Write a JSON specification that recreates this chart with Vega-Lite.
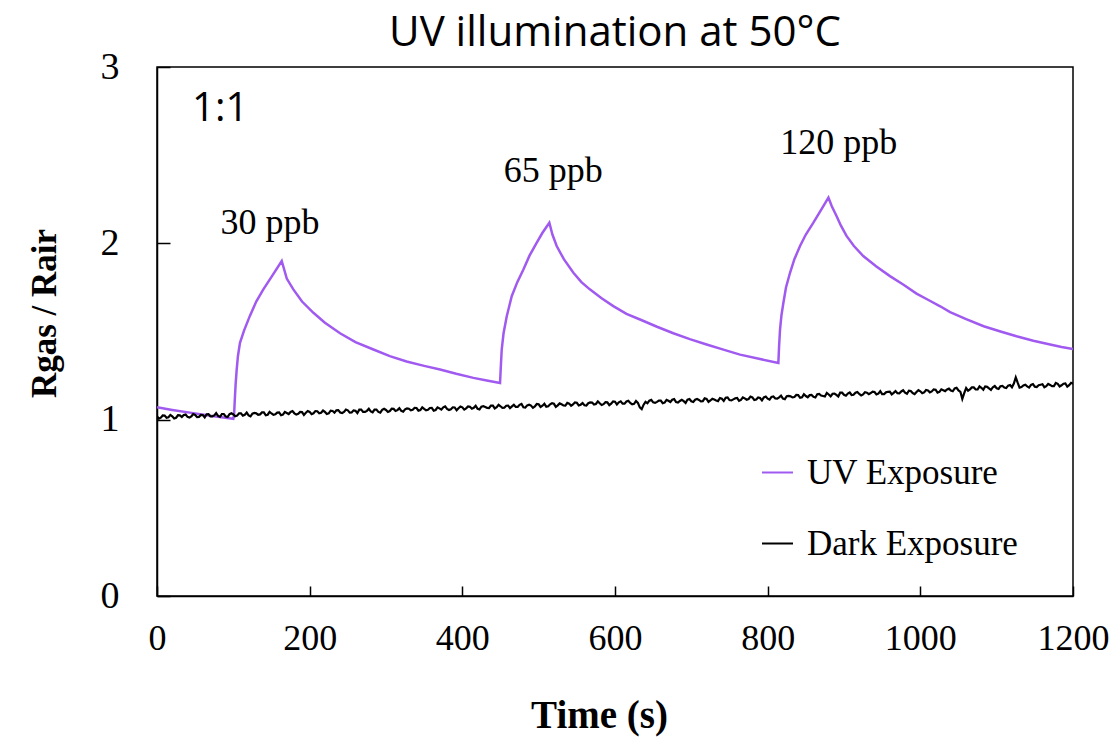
{
  "$schema": "https://vega.github.io/schema/vega-lite/v6.json",
  "width": 916,
  "height": 529,
  "autosize": {"type": "none"},
  "padding": {"left": 157, "top": 67, "right": 42, "bottom": 146},
  "background": "white",
  "title": {"text": "UV illumination at 50°C", "font": "Open Sans", "fontSize": 42, "fontWeight": "normal", "color": "black", "anchor": "middle", "baseline": "alphabetic", "offset": -40},
  "config": {
    "view": {"stroke": "black", "strokeWidth": 1.5},
    "axis": {"grid": false, "domainColor": "black", "domainWidth": 1.5, "tickColor": "black", "tickWidth": 1.5, "labelColor": "black", "labelFont": "Liberation Serif", "titleColor": "black", "titleFont": "Liberation Serif", "titleFontWeight": "bold", "labelFlush": false}
  },
  "datasets": {
    "uv": [
      {"t":0,"r":1.07},{"t":20,"r":1.055},{"t":43,"r":1.04},{"t":70,"r":1.022},{"t":100,"r":1.005},{"t":101,"r":1.03},{"t":102,"r":1.12},{"t":103,"r":1.2},{"t":104.4,"r":1.284},{"t":106,"r":1.36},{"t":108.7,"r":1.436},{"t":114,"r":1.505},{"t":121.8,"r":1.59},{"t":130,"r":1.67},{"t":139.3,"r":1.739},{"t":150,"r":1.81},{"t":163.4,"r":1.9},{"t":170,"r":1.8},{"t":178.6,"r":1.739},{"t":190,"r":1.67},{"t":204.9,"r":1.606},{"t":220,"r":1.55},{"t":239.8,"r":1.49},{"t":260,"r":1.44},{"t":283.5,"r":1.398},{"t":305,"r":1.36},{"t":327,"r":1.33},{"t":350,"r":1.305},{"t":370.8,"r":1.284},{"t":392,"r":1.26},{"t":414.5,"r":1.237},{"t":432,"r":1.222},{"t":449.4,"r":1.208},{"t":450.3,"r":1.29},{"t":451.6,"r":1.398},{"t":454,"r":1.49},{"t":458.2,"r":1.587},{"t":464.7,"r":1.7},{"t":472,"r":1.78},{"t":480,"r":1.852},{"t":488,"r":1.93},{"t":497.5,"r":2.004},{"t":505,"r":2.06},{"t":514,"r":2.117},{"t":518,"r":2.05},{"t":523.6,"r":1.985},{"t":533,"r":1.91},{"t":545.5,"r":1.833},{"t":556,"r":1.78},{"t":567,"r":1.739},{"t":582,"r":1.69},{"t":597.8,"r":1.644},{"t":615,"r":1.6},{"t":632.8,"r":1.568},{"t":655,"r":1.527},{"t":676.4,"r":1.49},{"t":698,"r":1.457},{"t":720,"r":1.426},{"t":742,"r":1.397},{"t":763.8,"r":1.369},{"t":790,"r":1.344},{"t":814,"r":1.322},{"t":815,"r":1.42},{"t":816.2,"r":1.511},{"t":818,"r":1.59},{"t":820.6,"r":1.663},{"t":824,"r":1.75},{"t":829.3,"r":1.833},{"t":835,"r":1.91},{"t":842.4,"r":1.985},{"t":850,"r":2.05},{"t":859.9,"r":2.117},{"t":870,"r":2.19},{"t":879.6,"r":2.259},{"t":884,"r":2.21},{"t":890.2,"r":2.155},{"t":896,"r":2.1},{"t":903.3,"r":2.042},{"t":913,"r":1.985},{"t":925.2,"r":1.928},{"t":942,"r":1.87},{"t":960.2,"r":1.814},{"t":978,"r":1.765},{"t":995,"r":1.715},{"t":1010,"r":1.68},{"t":1026,"r":1.643},{"t":1039,"r":1.61},{"t":1060,"r":1.57},{"t":1083,"r":1.53},{"t":1105,"r":1.5},{"t":1126,"r":1.473},{"t":1148,"r":1.448},{"t":1170,"r":1.426},{"t":1185,"r":1.412},{"t":1200,"r":1.4}
    ],
    "dark": [
      {"t":0,"r":1.019},{"t":5,"r":1.011},{"t":10,"r":1.023},{"t":15,"r":1.014},{"t":20,"r":1.019},{"t":25,"r":1.011},{"t":30,"r":1.024},{"t":35,"r":1.027},{"t":40,"r":1.016},{"t":45,"r":1.019},
      {"t":50,"r":1.027},{"t":55,"r":1.016},{"t":60,"r":1.026},{"t":65,"r":1.03},{"t":70,"r":1.019},{"t":75,"r":1.024},{"t":80,"r":1.022},{"t":85,"r":1.032},{"t":90,"r":1.018},{"t":95,"r":1.031},
      {"t":100,"r":1.03},{"t":105,"r":1.023},{"t":110,"r":1.036},{"t":115,"r":1.028},{"t":120,"r":1.024},{"t":125,"r":1.034},{"t":130,"r":1.036},{"t":135,"r":1.03},{"t":140,"r":1.041},{"t":145,"r":1.028},
      {"t":150,"r":1.035},{"t":155,"r":1.03},{"t":160,"r":1.041},{"t":165,"r":1.029},{"t":170,"r":1.038},{"t":175,"r":1.044},{"t":180,"r":1.036},{"t":185,"r":1.033},{"t":190,"r":1.043},{"t":195,"r":1.039},
      {"t":200,"r":1.044},{"t":205,"r":1.036},{"t":210,"r":1.048},{"t":215,"r":1.039},{"t":220,"r":1.044},{"t":225,"r":1.036},{"t":230,"r":1.049},{"t":235,"r":1.053},{"t":240,"r":1.041},{"t":245,"r":1.044},
      {"t":250,"r":1.053},{"t":255,"r":1.041},{"t":260,"r":1.051},{"t":265,"r":1.057},{"t":270,"r":1.044},{"t":275,"r":1.05},{"t":280,"r":1.047},{"t":285,"r":1.057},{"t":290,"r":1.044},{"t":295,"r":1.056},
      {"t":300,"r":1.055},{"t":305,"r":1.049},{"t":310,"r":1.061},{"t":315,"r":1.054},{"t":320,"r":1.05},{"t":325,"r":1.059},{"t":330,"r":1.062},{"t":335,"r":1.056},{"t":340,"r":1.066},{"t":345,"r":1.054},
      {"t":350,"r":1.061},{"t":355,"r":1.056},{"t":360,"r":1.067},{"t":365,"r":1.055},{"t":370,"r":1.064},{"t":375,"r":1.07},{"t":380,"r":1.061},{"t":385,"r":1.059},{"t":390,"r":1.069},{"t":395,"r":1.065},
      {"t":400,"r":1.07},{"t":405,"r":1.064},{"t":410,"r":1.073},{"t":415,"r":1.067},{"t":420,"r":1.062},{"t":425,"r":1.074},{"t":430,"r":1.072},{"t":435,"r":1.066},{"t":440,"r":1.08},{"t":445,"r":1.071},
      {"t":450,"r":1.076},{"t":455,"r":1.068},{"t":460,"r":1.08},{"t":465,"r":1.075},{"t":470,"r":1.072},{"t":475,"r":1.084},{"t":480,"r":1.07},{"t":485,"r":1.081},{"t":490,"r":1.08},{"t":495,"r":1.075},
      {"t":500,"r":1.087},{"t":505,"r":1.079},{"t":510,"r":1.073},{"t":515,"r":1.087},{"t":520,"r":1.09},{"t":525,"r":1.081},{"t":530,"r":1.087},{"t":535,"r":1.08},{"t":540,"r":1.091},{"t":545,"r":1.086},
      {"t":550,"r":1.096},{"t":555,"r":1.085},{"t":560,"r":1.082},{"t":565,"r":1.093},{"t":570,"r":1.097},{"t":575,"r":1.089},{"t":580,"r":1.093},{"t":585,"r":1.088},{"t":590,"r":1.098},{"t":595,"r":1.091},
      {"t":600,"r":1.102},{"t":605,"r":1.098},{"t":610,"r":1.091},{"t":615,"r":1.103},{"t":620,"r":1.095},{"t":625,"r":1.09},{"t":630,"r":1.095},{"t":635,"r":1.06},{"t":640,"r":1.101},{"t":645,"r":1.108},
      {"t":650,"r":1.098},{"t":655,"r":1.101},{"t":660,"r":1.108},{"t":665,"r":1.097},{"t":670,"r":1.107},{"t":675,"r":1.113},{"t":680,"r":1.1},{"t":685,"r":1.106},{"t":690,"r":1.105},{"t":695,"r":1.114},
      {"t":700,"r":1.104},{"t":705,"r":1.113},{"t":710,"r":1.112},{"t":715,"r":1.105},{"t":720,"r":1.118},{"t":725,"r":1.109},{"t":730,"r":1.114},{"t":735,"r":1.105},{"t":740,"r":1.119},{"t":745,"r":1.124},
      {"t":750,"r":1.111},{"t":755,"r":1.115},{"t":760,"r":1.123},{"t":765,"r":1.112},{"t":770,"r":1.121},{"t":775,"r":1.117},{"t":780,"r":1.126},{"t":785,"r":1.114},{"t":790,"r":1.123},{"t":795,"r":1.126},
      {"t":800,"r":1.119},{"t":805,"r":1.129},{"t":810,"r":1.12},{"t":815,"r":1.127},{"t":820,"r":1.12},{"t":825,"r":1.133},{"t":830,"r":1.132},{"t":835,"r":1.128},{"t":840,"r":1.139},{"t":845,"r":1.127},
      {"t":850,"r":1.134},{"t":855,"r":1.139},{"t":860,"r":1.13},{"t":865,"r":1.144},{"t":870,"r":1.137},{"t":875,"r":1.131},{"t":880,"r":1.143},{"t":885,"r":1.147},{"t":890,"r":1.14},{"t":895,"r":1.153},
      {"t":900,"r":1.141},{"t":905,"r":1.148},{"t":910,"r":1.14},{"t":915,"r":1.153},{"t":920,"r":1.146},{"t":925,"r":1.143},{"t":930,"r":1.153},{"t":935,"r":1.151},{"t":940,"r":1.157},{"t":945,"r":1.148},
      {"t":950,"r":1.145},{"t":955,"r":1.155},{"t":960,"r":1.159},{"t":965,"r":1.152},{"t":970,"r":1.15},{"t":975,"r":1.16},{"t":980,"r":1.153},{"t":985,"r":1.164},{"t":990,"r":1.151},{"t":995,"r":1.157},
      {"t":1000,"r":1.161},{"t":1005,"r":1.155},{"t":1010,"r":1.166},{"t":1015,"r":1.16},{"t":1020,"r":1.17},{"t":1025,"r":1.158},{"t":1030,"r":1.167},{"t":1035,"r":1.171},{"t":1040,"r":1.165},{"t":1045,"r":1.177},
      {"t":1050,"r":1.166},{"t":1055,"r":1.118},{"t":1060,"r":1.179},{"t":1065,"r":1.172},{"t":1070,"r":1.183},{"t":1075,"r":1.171},{"t":1080,"r":1.181},{"t":1085,"r":1.188},{"t":1090,"r":1.177},{"t":1095,"r":1.184},
      {"t":1100,"r":1.178},{"t":1105,"r":1.19},{"t":1110,"r":1.182},{"t":1115,"r":1.193},{"t":1120,"r":1.184},{"t":1125,"r":1.24},{"t":1130,"r":1.182},{"t":1135,"r":1.194},{"t":1140,"r":1.189},{"t":1145,"r":1.197},
      {"t":1150,"r":1.187},{"t":1155,"r":1.195},{"t":1160,"r":1.201},{"t":1165,"r":1.19},{"t":1170,"r":1.197},{"t":1175,"r":1.19},{"t":1180,"r":1.203},{"t":1185,"r":1.195},{"t":1190,"r":1.205},{"t":1195,"r":1.196},
      {"t":1200,"r":1.204},
      {"t":2.5,"r":1.006},{"t":7.5,"r":1.024},{"t":12.5,"r":1.011},{"t":17.5,"r":1.027},{"t":22.5,"r":1.007},{"t":27.5,"r":1.025},{"t":32.5,"r":1.015},{"t":37.5,"r":1.029},{"t":42.5,"r":1.012},{"t":47.5,"r":1.032},
      {"t":52.5,"r":1.015},{"t":57.5,"r":1.027},{"t":62.5,"r":1.013},{"t":67.5,"r":1.031},{"t":72.5,"r":1.019},{"t":77.5,"r":1.037},{"t":82.5,"r":1.016},{"t":87.5,"r":1.032},{"t":92.5,"r":1.015},{"t":97.5,"r":1.036},
      {"t":102.5,"r":1.019},{"t":107.5,"r":1.036},{"t":112.5,"r":1.023},{"t":117.5,"r":1.04},{"t":122.5,"r":1.019},{"t":127.5,"r":1.038},{"t":132.5,"r":1.028},{"t":137.5,"r":1.041},{"t":142.5,"r":1.025},{"t":147.5,"r":1.044},
      {"t":152.5,"r":1.027},{"t":157.5,"r":1.04},{"t":162.5,"r":1.025},{"t":167.5,"r":1.044},{"t":172.5,"r":1.032},{"t":177.5,"r":1.049},{"t":182.5,"r":1.029},{"t":187.5,"r":1.044},{"t":192.5,"r":1.027},{"t":197.5,"r":1.049},
      {"t":202.5,"r":1.031},{"t":207.5,"r":1.049},{"t":212.5,"r":1.036},{"t":217.5,"r":1.052},{"t":222.5,"r":1.032},{"t":227.5,"r":1.051},{"t":232.5,"r":1.04},{"t":237.5,"r":1.054},{"t":242.5,"r":1.038},{"t":247.5,"r":1.057},
      {"t":252.5,"r":1.04},{"t":257.5,"r":1.053},{"t":262.5,"r":1.038},{"t":267.5,"r":1.057},{"t":272.5,"r":1.044},{"t":277.5,"r":1.062},{"t":282.5,"r":1.042},{"t":287.5,"r":1.057},{"t":292.5,"r":1.04},{"t":297.5,"r":1.062},
      {"t":302.5,"r":1.044},{"t":307.5,"r":1.062},{"t":312.5,"r":1.049},{"t":317.5,"r":1.065},{"t":322.5,"r":1.045},{"t":327.5,"r":1.064},{"t":332.5,"r":1.053},{"t":337.5,"r":1.067},{"t":342.5,"r":1.051},{"t":347.5,"r":1.07},
      {"t":352.5,"r":1.053},{"t":357.5,"r":1.066},{"t":362.5,"r":1.051},{"t":367.5,"r":1.07},{"t":372.5,"r":1.057},{"t":377.5,"r":1.075},{"t":382.5,"r":1.055},{"t":387.5,"r":1.07},{"t":392.5,"r":1.053},{"t":397.5,"r":1.075},
      {"t":402.5,"r":1.057},{"t":407.5,"r":1.075},{"t":412.5,"r":1.062},{"t":417.5,"r":1.079},{"t":422.5,"r":1.058},{"t":427.5,"r":1.077},{"t":432.5,"r":1.067},{"t":437.5,"r":1.08},{"t":442.5,"r":1.064},{"t":447.5,"r":1.084},
      {"t":452.5,"r":1.067},{"t":457.5,"r":1.079},{"t":462.5,"r":1.065},{"t":467.5,"r":1.084},{"t":472.5,"r":1.072},{"t":477.5,"r":1.089},{"t":482.5,"r":1.069},{"t":487.5,"r":1.085},{"t":492.5,"r":1.067},{"t":497.5,"r":1.089},
      {"t":502.5,"r":1.072},{"t":507.5,"r":1.09},{"t":512.5,"r":1.076},{"t":517.5,"r":1.093},{"t":522.5,"r":1.073},{"t":527.5,"r":1.092},{"t":532.5,"r":1.081},{"t":537.5,"r":1.095},{"t":542.5,"r":1.079},{"t":547.5,"r":1.098},
      {"t":552.5,"r":1.081},{"t":557.5,"r":1.094},{"t":562.5,"r":1.08},{"t":567.5,"r":1.098},{"t":572.5,"r":1.086},{"t":577.5,"r":1.104},{"t":582.5,"r":1.083},{"t":587.5,"r":1.099},{"t":592.5,"r":1.082},{"t":597.5,"r":1.104},
      {"t":602.5,"r":1.086},{"t":607.5,"r":1.104},{"t":612.5,"r":1.091},{"t":617.5,"r":1.107},{"t":622.5,"r":1.087},{"t":627.5,"r":1.106},{"t":632.5,"r":1.07},{"t":637.5,"r":1.085},{"t":642.5,"r":1.093},{"t":647.5,"r":1.112},
      {"t":652.5,"r":1.095},{"t":657.5,"r":1.108},{"t":662.5,"r":1.093},{"t":667.5,"r":1.112},{"t":672.5,"r":1.1},{"t":677.5,"r":1.117},{"t":682.5,"r":1.097},{"t":687.5,"r":1.113},{"t":692.5,"r":1.095},{"t":697.5,"r":1.117},
      {"t":702.5,"r":1.1},{"t":707.5,"r":1.117},{"t":712.5,"r":1.104},{"t":717.5,"r":1.121},{"t":722.5,"r":1.101},{"t":727.5,"r":1.119},{"t":732.5,"r":1.109},{"t":737.5,"r":1.123},{"t":742.5,"r":1.106},{"t":747.5,"r":1.126},
      {"t":752.5,"r":1.109},{"t":757.5,"r":1.121},{"t":762.5,"r":1.107},{"t":767.5,"r":1.126},{"t":772.5,"r":1.113},{"t":777.5,"r":1.131},{"t":782.5,"r":1.111},{"t":787.5,"r":1.126},{"t":792.5,"r":1.109},{"t":797.5,"r":1.131},
      {"t":802.5,"r":1.114},{"t":807.5,"r":1.132},{"t":812.5,"r":1.119},{"t":817.5,"r":1.136},{"t":822.5,"r":1.116},{"t":827.5,"r":1.135},{"t":832.5,"r":1.126},{"t":837.5,"r":1.14},{"t":842.5,"r":1.124},{"t":847.5,"r":1.144},
      {"t":852.5,"r":1.127},{"t":857.5,"r":1.14},{"t":862.5,"r":1.126},{"t":867.5,"r":1.146},{"t":872.5,"r":1.134},{"t":877.5,"r":1.152},{"t":882.5,"r":1.132},{"t":887.5,"r":1.148},{"t":892.5,"r":1.131},{"t":897.5,"r":1.153},
      {"t":902.5,"r":1.136},{"t":907.5,"r":1.154},{"t":912.5,"r":1.141},{"t":917.5,"r":1.157},{"t":922.5,"r":1.137},{"t":927.5,"r":1.156},{"t":932.5,"r":1.145},{"t":937.5,"r":1.159},{"t":942.5,"r":1.143},{"t":947.5,"r":1.162},
      {"t":952.5,"r":1.145},{"t":957.5,"r":1.158},{"t":962.5,"r":1.143},{"t":967.5,"r":1.162},{"t":972.5,"r":1.149},{"t":977.5,"r":1.167},{"t":982.5,"r":1.147},{"t":987.5,"r":1.162},{"t":992.5,"r":1.145},{"t":997.5,"r":1.167},
      {"t":1002.5,"r":1.15},{"t":1007.5,"r":1.168},{"t":1012.5,"r":1.155},{"t":1017.5,"r":1.172},{"t":1022.5,"r":1.153},{"t":1027.5,"r":1.172},{"t":1032.5,"r":1.162},{"t":1037.5,"r":1.176},{"t":1042.5,"r":1.161},{"t":1047.5,"r":1.181},
      {"t":1052.5,"r":1.158},{"t":1057.5,"r":1.15},{"t":1062.5,"r":1.164},{"t":1067.5,"r":1.183},{"t":1072.5,"r":1.171},{"t":1077.5,"r":1.189},{"t":1082.5,"r":1.17},{"t":1087.5,"r":1.186},{"t":1092.5,"r":1.169},{"t":1097.5,"r":1.191},
      {"t":1102.5,"r":1.174},{"t":1107.5,"r":1.192},{"t":1112.5,"r":1.179},{"t":1117.5,"r":1.196},{"t":1122.5,"r":1.205},{"t":1127.5,"r":1.21},{"t":1132.5,"r":1.185},{"t":1137.5,"r":1.198},{"t":1142.5,"r":1.182},{"t":1147.5,"r":1.202},
      {"t":1152.5,"r":1.185},{"t":1157.5,"r":1.198},{"t":1162.5,"r":1.184},{"t":1167.5,"r":1.203},{"t":1172.5,"r":1.19},{"t":1177.5,"r":1.208},{"t":1182.5,"r":1.188},{"t":1187.5,"r":1.204},{"t":1192.5,"r":1.187},{"t":1197.5,"r":1.209}
    ],
    "notes": [
      {"t":148,"r":2.051,"label":"30 ppb"},
      {"t":519,"r":2.347,"label":"65 ppb"},
      {"t":893,"r":2.506,"label":"120 ppb"}
    ],
    "ratio": [
      {"t":46,"r":2.693,"label":"1:1"}
    ]
  },
  "encoding": {
    "x": {"field": "t", "type": "quantitative", "scale": {"domain": [0, 1200], "nice": false},
      "axis": {"values": [0,200,400,600,800,1000,1200], "format": "d", "tickSize": -10, "labelPadding": 35, "labelFontSize": 36, "title": "Time (s)", "titleFontSize": 39, "titleX": 442, "titleY": 131, "titleBaseline": "alphabetic"}},
    "y": {"field": "r", "type": "quantitative", "scale": {"domain": [0, 3], "nice": false},
      "axis": {"values": [0,1,2,3], "format": "d", "tickSize": -13, "labelPadding": 51, "labelFontSize": 38, "title": "Rgas / Rair", "titleFontSize": 35, "titleX": -102, "titleY": 246, "titleBaseline": "alphabetic", "titleAngle": -90}}
  },
  "layer": [
    {
      "data": {"name": "uv"},
      "mark": {"type": "line", "strokeWidth": 2.5, "clip": true},
      "encoding": {
        "color": {"datum": "UV Exposure", "type": "nominal",
          "scale": {"domain": ["UV Exposure", "Dark Exposure"], "range": ["#a15af0", "#000000"]},
          "legend": {"orient": "none", "legendX": 603, "legendY": 388, "title": null, "padding": 0, "symbolType": "stroke", "symbolSize": 961, "symbolStrokeWidth": 2, "labelFont": "Liberation Serif", "labelFontSize": 35, "labelColor": "black", "labelOffset": 12, "labelLimit": 400, "rowPadding": 35}}
      }
    },
    {
      "data": {"name": "dark"},
      "mark": {"type": "line", "strokeWidth": 2.2, "clip": true},
      "encoding": {
        "color": {"datum": "Dark Exposure", "type": "nominal"}
      }
    },
    {
      "data": {"name": "notes"},
      "mark": {"type": "text", "font": "Liberation Serif", "fontSize": 36, "align": "center", "baseline": "alphabetic", "color": "black"},
      "encoding": {"text": {"field": "label"}}
    },
    {
      "data": {"name": "ratio"},
      "mark": {"type": "text", "font": "Open Sans", "fontSize": 40, "align": "left", "baseline": "alphabetic", "color": "black"},
      "encoding": {"text": {"field": "label"}}
    }
  ]
}
